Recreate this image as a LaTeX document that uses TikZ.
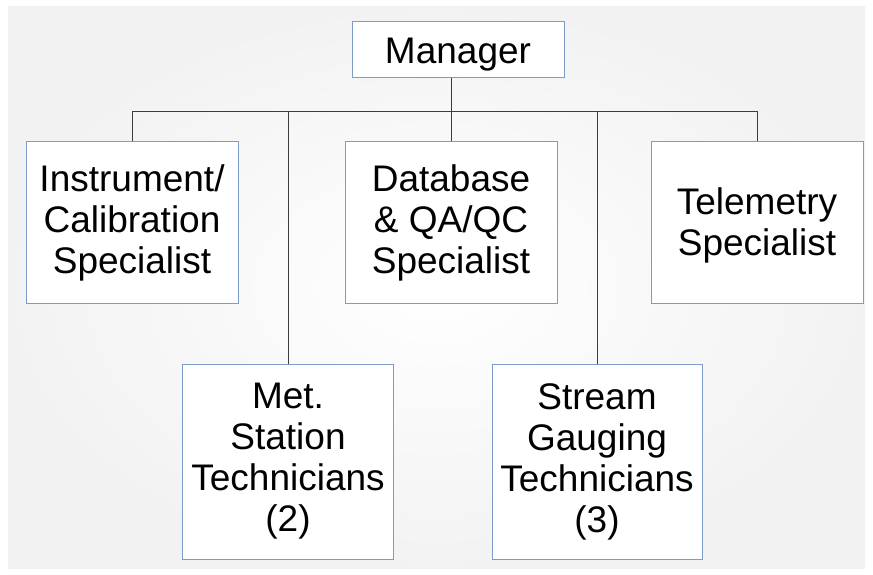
\documentclass[tikz,border=0pt]{standalone}
\usepackage{fontspec}
\setmainfont{Liberation Sans}
\definecolor{boxblue}{RGB}{125,155,200}
\definecolor{linegray}{RGB}{60,60,60}
\begin{document}
\begin{tikzpicture}[x=1pt,y=-1pt,
  box/.style={draw=boxblue, line width=1pt, fill=white, align=center,
    inner sep=0pt, font=\fontsize{37}{41}\selectfont},
  boxtext/.style={align=center, inner sep=0pt, font=\fontsize{37}{41}\selectfont},
  conn/.style={draw=linegray, line width=0.9pt}]
\useasboundingbox (0,0) rectangle (873,575);
\fill[white] (0,0) rectangle (873,575);
\shade[inner color=white, outer color=black!5, shading=radial] (8,7) rectangle (865,568);

\node[box, minimum width=212pt, minimum height=56pt] (mgr) at (458,50) {};
\node[boxtext] (mgrt) at ([yshift=-5pt]mgr.center) {Manager};
\node[box, minimum width=212pt, minimum height=161pt] (inst) at (132,222.5) {Instrument/\\Calibration\\Specialist};
\node[box, minimum width=212pt, minimum height=161pt] (db) at (451,222.5) {Database\\\& QA/QC\\Specialist};
\node[box, minimum width=212pt, minimum height=161pt] (tele) at (757,222.5) {};
\node[boxtext] (telet) at ([yshift=-3pt]tele.center) {Telemetry\\Specialist};
\node[box, minimum width=211pt, minimum height=195pt] (met) at (288,461.5) {Met.\\Station\\Technicians\\(2)};
\node[box, minimum width=210pt, minimum height=195pt] (stream) at (597,461.5) {Stream\\Gauging\\Technicians\\(3)};

\coordinate (bus) at (0,111);
\draw[conn] (db.north) -- (db.north |- mgr.south);
\draw[conn] (inst.north) -- (inst.north |- bus) -- (tele.north |- bus) -- (tele.north);
\draw[conn] (met.north) -- (met.north |- bus);
\draw[conn] (stream.north) -- (stream.north |- bus);
\end{tikzpicture}
\end{document}
